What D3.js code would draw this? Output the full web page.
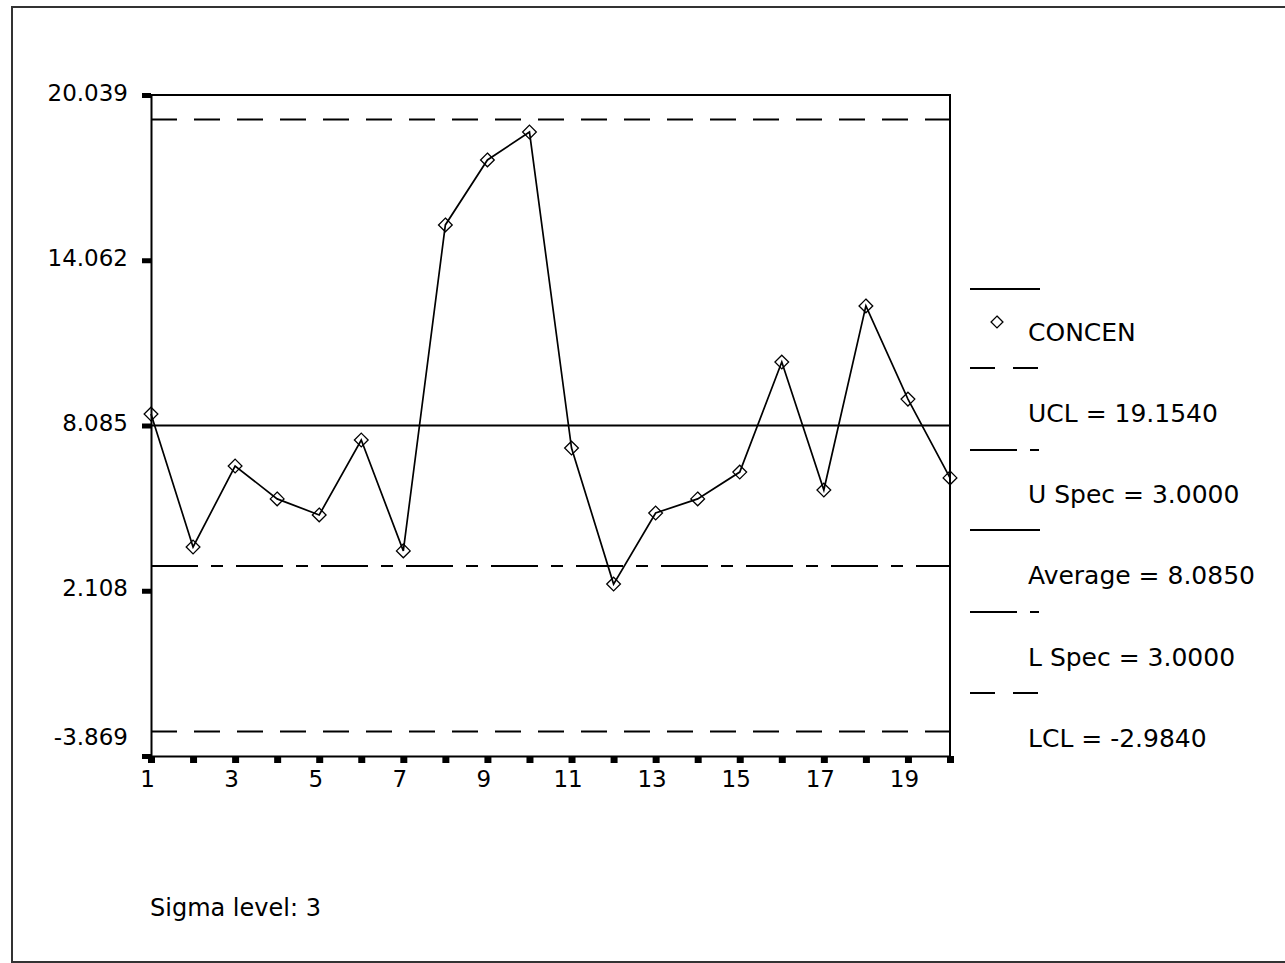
<!DOCTYPE html>
<html>
<head>
<meta charset="utf-8">
<script src="https://cdn.jsdelivr.net/npm/d3@7"></script>
<style>
  body { margin: 0; background: #fff; }
  text { font-family: "DejaVu Sans", sans-serif; fill: #000; }
</style>
</head>
<body>
<svg width="1285" height="963"></svg>
<script>
// sample numbers and CONCEN values
const samples = [1, 2, 3, 4, 5, 6, 7, 8, 9, 10, 11, 12, 13, 14, 15, 16, 17, 18, 19, 20];
const concen = [8.50, 3.69, 6.62, 5.43, 4.85, 7.56, 3.55, 15.34, 17.69, 18.70,
                7.27, 2.35, 4.92, 5.43, 6.40, 10.38, 5.75, 12.41, 9.04, 6.19];
const yTicks = [20.039, 14.062, 8.085, 2.108, -3.869];
const xTickLabels = [1, 3, 5, 7, 9, 11, 13, 15, 17, 19];
const ucl = 19.154, uSpec = 3.0, average = 8.085, lSpec = 3.0, lcl = -2.984;
const legendLabels = ["CONCEN", "UCL = 19.1540", "U Spec = 3.0000",
                      "Average = 8.0850", "L Spec = 3.0000", "LCL = -2.9840"];

function draw() {
    const svg = d3.select("svg");

    // outer frame
    svg.append("rect")
        .attr("x", 12).attr("y", 7)
        .attr("width", 1290).attr("height", 955)
        .attr("fill", "none").attr("stroke", "#333").attr("stroke-width", 2);

    const left = 151, right = 950, top = 95, bottom = 756;

    const x = d3.scaleLinear().domain([1, 20]).range([left, right]);
    const y = d3.scaleLinear().domain([-3.869, 20.039]).range([bottom, top]);

    // plot box (top + right)
    svg.append("path")
        .attr("d", `M${left},${top}H${right}V${bottom}`)
        .attr("fill", "none").attr("stroke", "#000").attr("stroke-width", 2);

    // y axis
    const yAxis = svg.append("g")
        .attr("transform", `translate(${left},0)`)
        .call(d3.axisLeft(y).tickValues(yTicks).tickFormat(d => d.toFixed(3))
            .tickSizeInner(9).tickSizeOuter(0).tickPadding(14));
    yAxis.select(".domain").attr("stroke-width", 2);
    yAxis.selectAll(".tick line").attr("stroke-width", 5);
    yAxis.selectAll(".tick text")
        .attr("font-size", 23)
        .style("font-family", "DejaVu Sans")
        .attr("y", -3)
        .attr("dy", d => d === yTicks[yTicks.length - 1] ? "-0.35em" : "0.35em");

    // x axis
    const xAxis = svg.append("g")
        .attr("transform", `translate(0,${bottom})`)
        .call(d3.axisBottom(x).tickValues(samples)
            .tickFormat(d => xTickLabels.includes(d) ? d : "")
            .tickSizeInner(7).tickSizeOuter(0).tickPadding(8));
    xAxis.select(".domain").attr("stroke-width", 2);
    xAxis.selectAll(".tick line").attr("stroke-width", 7);
    xAxis.selectAll(".tick text")
        .attr("font-size", 23)
        .attr("dx", -4)
        .style("font-family", "DejaVu Sans");

    // control / spec / average lines
    const refLines = [
        { v: ucl, dash: "26,17" },
        { v: uSpec, dash: "47,13,12,13" },
        { v: average, dash: null },
        { v: lSpec, dash: "47,13,12,13" },
        { v: lcl, dash: "26,17" }
    ];
    svg.append("g").selectAll("line")
        .data(refLines)
        .enter().append("line")
        .attr("x1", left).attr("x2", right)
        .attr("y1", d => y(d.v)).attr("y2", d => y(d.v))
        .attr("stroke", "#000").attr("stroke-width", 2)
        .attr("stroke-dasharray", d => d.dash);

    // data line
    const line = d3.line().x((d, i) => x(samples[i])).y(d => y(d));
    svg.append("path")
        .datum(concen)
        .attr("d", line)
        .attr("fill", "none").attr("stroke", "#000").attr("stroke-width", 1.7);

    const diamond = d3.symbol().type(d3.symbolDiamond2).size(120);
    svg.append("g").selectAll("path")
        .data(concen)
        .enter().append("path")
        .attr("d", diamond)
        .attr("transform", (d, i) => `translate(${x(samples[i])},${y(d)})`)
        .attr("fill", "none").attr("stroke", "#000").attr("stroke-width", 1.3);

    // legend
    const lg = svg.append("g");
    const samplesY = [289, 368, 450, 530, 612, 693];
    const dashes = [null, "25,18", "47,13,9,100", null, "47,13,9,100", "25,18"];
    lg.selectAll("line")
        .data(samplesY)
        .enter().append("line")
        .attr("x1", 970).attr("x2", 1040)
        .attr("y1", d => d).attr("y2", d => d)
        .attr("stroke", "#000").attr("stroke-width", 2)
        .attr("stroke-dasharray", (d, i) => dashes[i]);
    lg.append("path")
        .attr("d", d3.symbol().type(d3.symbolDiamond2).size(90))
        .attr("transform", "translate(997,322)")
        .attr("fill", "none").attr("stroke", "#000").attr("stroke-width", 1.3);
    lg.selectAll("text")
        .data(legendLabels)
        .enter().append("text")
        .attr("x", 1028)
        .attr("y", (d, i) => 332 + i * 81.2)
        .attr("dy", "0.35em")
        .attr("font-size", 25)
        .text(d => d);

    svg.append("text")
        .attr("x", 150).attr("y", 916)
        .attr("font-size", 24)
        .text("Sigma level: 3");
}

document.addEventListener("DOMContentLoaded", draw);
</script>
</body>
</html>
